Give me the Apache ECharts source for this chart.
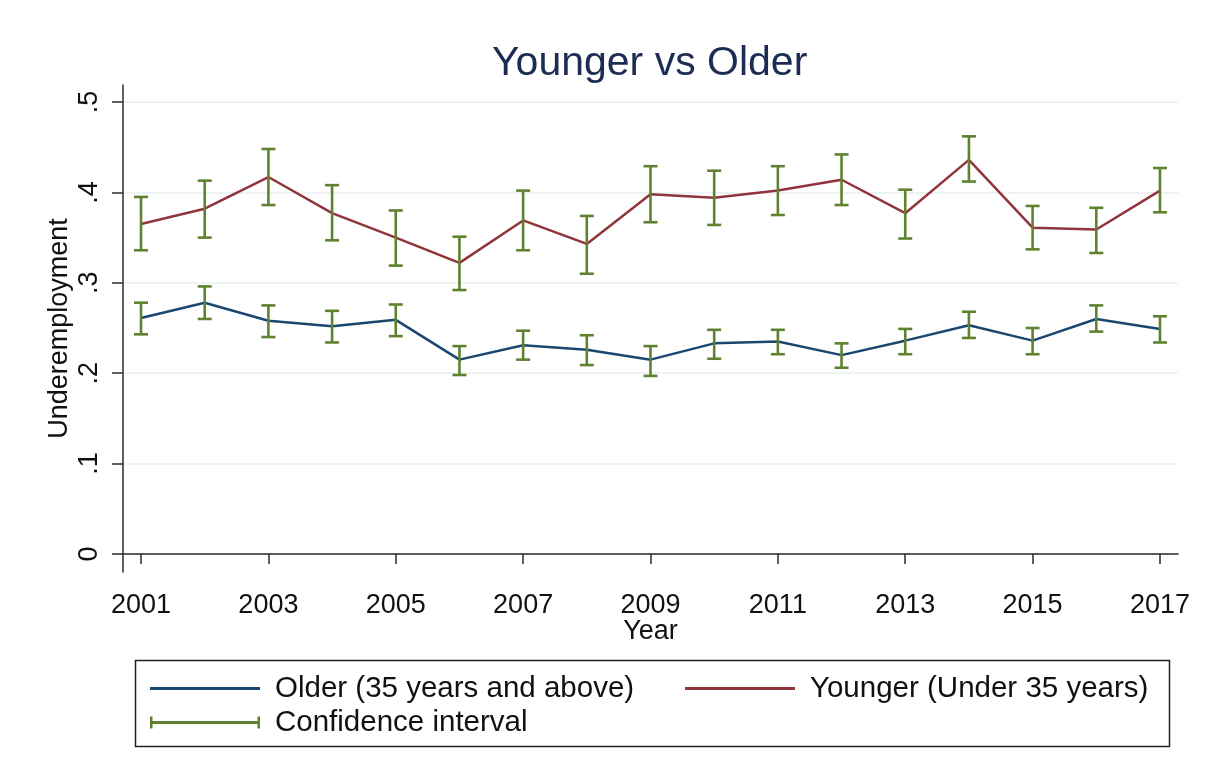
<!DOCTYPE html>
<html>
<head>
<meta charset="utf-8">
<script src="https://cdn.jsdelivr.net/npm/echarts@6/dist/echarts.min.js"></script>
<style>
html,body{margin:0;padding:0;background:#fff;}
#chart{width:1225px;height:772px;}
</style>
</head>
<body>
<div id="chart"></div>
<script>
const years = [2001,2002,2003,2004,2005,2006,2007,2008,2009,2010,2011,2012,2013,2014,2015,2016,2017];
const olderMean = [0.261,0.278,0.258,0.252,0.259,0.215,0.231,0.226,0.215,0.233,0.235,0.220,0.236,0.253,0.236,0.260,0.249];
const olderLow  = [0.243,0.260,0.240,0.234,0.241,0.198,0.215,0.209,0.197,0.216,0.221,0.206,0.221,0.239,0.221,0.246,0.234];
const olderHigh = [0.278,0.296,0.275,0.269,0.276,0.230,0.247,0.242,0.230,0.248,0.248,0.233,0.249,0.268,0.250,0.275,0.263];
const youngerMean = [0.365,0.382,0.417,0.377,0.350,0.322,0.369,0.343,0.398,0.394,0.402,0.414,0.377,0.436,0.361,0.359,0.402];
const youngerLow  = [0.336,0.350,0.386,0.347,0.319,0.292,0.336,0.310,0.367,0.364,0.375,0.386,0.349,0.412,0.337,0.333,0.378];
const youngerHigh = [0.395,0.413,0.448,0.408,0.380,0.351,0.402,0.374,0.429,0.424,0.429,0.442,0.403,0.462,0.385,0.383,0.427];
const xTickValues = [2001,2003,2005,2007,2009,2011,2013,2015,2017];
const yTickValues = [0,0.1,0.2,0.3,0.4,0.5];
const yTickLabels = ['0','.1','.2','.3','.4','.5'];

const FONT = 'Liberation Sans, Arial, Helvetica, sans-serif';
const ciColor = '#5f8230';
const olderColor = '#1a476f';
const youngerColor = '#90353b';
const axisColor = '#2b2b2b';

function ciRender(params, api) {
  const x = api.value(0), lo = api.value(1), hi = api.value(2);
  const pHi = api.coord([x, hi]);
  const pLo = api.coord([x, lo]);
  const w = 7;
  const st = {stroke: ciColor, lineWidth: 2.6};
  return {type: 'group', children: [
    {type: 'line', shape: {x1: pHi[0], y1: pHi[1], x2: pLo[0], y2: pLo[1]}, style: st},
    {type: 'line', shape: {x1: pHi[0]-w, y1: pHi[1], x2: pHi[0]+w, y2: pHi[1]}, style: st},
    {type: 'line', shape: {x1: pLo[0]-w, y1: pLo[1], x2: pLo[0]+w, y2: pLo[1]}, style: st}
  ]};
}

const chart = echarts.init(document.getElementById('chart'), null, {renderer: 'canvas'});
const option = {
  animation: false,
  backgroundColor: '#ffffff',
  textStyle: {fontFamily: FONT},
  title: {
    text: 'Younger vs Older',
    left: 487, top: 38,
    textStyle: {fontFamily: FONT, fontSize: 41, fontWeight: 'normal', color: '#1c2c53'}
  },
  grid: {left: 123, right: 47, top: 85, bottom: 200, containLabel: false},
  xAxis: {
    type: 'value', min: 2000.717, max: 2017.283,
    name: 'Year', nameLocation: 'middle', nameGap: 46, nameMoveOverlap: false,
    nameTextStyle: {fontFamily: FONT, fontSize: 27, color: '#111'},
    axisLine: {show: true, lineStyle: {color: axisColor, width: 1.5}},
    axisTick: {show: true, length: 10, customValues: xTickValues, lineStyle: {color: axisColor, width: 1.5}},
    axisLabel: {customValues: xTickValues, margin: 20, fontFamily: FONT, fontSize: 27, color: '#111', formatter: v => String(v)},
    splitLine: {show: false}
  },
  yAxis: {
    type: 'value', min: -0.0199, max: 0.5188,
    name: 'Underemployment', nameLocation: 'middle', nameGap: 50, nameMoveOverlap: false,
    nameTextStyle: {fontFamily: FONT, fontSize: 27, color: '#111'},
    axisLine: {show: true, lineStyle: {color: axisColor, width: 1.5}},
    axisTick: {show: true, length: 11, customValues: yTickValues, lineStyle: {color: axisColor, width: 1.5}},
    axisLabel: {customValues: yTickValues, rotate: 90, margin: 20, fontFamily: FONT, fontSize: 27, color: '#111',
      formatter: v => yTickLabels[yTickValues.findIndex(t => Math.abs(t - v) < 1e-6)] ?? ''},
    splitLine: {show: true, lineStyle: {color: '#e8eeef', width: 1.5}}
  },
  legend: [
    {
      left: 145, top: 668, orient: 'vertical', itemGap: 3,
      itemWidth: 110, itemHeight: 12,
      textStyle: {fontFamily: FONT, fontSize: 29.5, color: '#111', lineHeight: 31, padding: [0,0,0,10]},
      data: [
        {name: 'Older (35 years and above)', icon: 'path://M0,0h110v3h-110z', itemStyle: {color: olderColor}},
        {name: 'Confidence interval', icon: 'path://M0,0h2.5v12h-2.5zM0,4.5h110v3h-110zM107.5,0h2.5v12h-2.5z', itemStyle: {color: ciColor}}
      ]
    },
    {
      left: 680, top: 668, orient: 'vertical',
      itemWidth: 110, itemHeight: 12,
      textStyle: {fontFamily: FONT, fontSize: 29.5, color: '#111', lineHeight: 31, padding: [0,0,0,10]},
      data: [
        {name: 'Younger (Under 35 years)', icon: 'path://M0,0h110v3h-110z', itemStyle: {color: youngerColor}}
      ]
    }
  ],
  graphic: [
    {type: 'rect', left: 133, top: 658, shape: {width: 1034, height: 86},
     style: {fill: 'none', stroke: '#222', lineWidth: 1.5}, silent: true}
  ],
  series: [
    {
      name: 'Older (35 years and above)', type: 'line',
      data: years.map((y, i) => [y, olderMean[i]]),
      showSymbol: false, symbol: 'none',
      lineStyle: {color: olderColor, width: 2.5}, itemStyle: {color: olderColor}, z: 2
    },
    {
      name: 'Younger (Under 35 years)', type: 'line',
      data: years.map((y, i) => [y, youngerMean[i]]),
      showSymbol: false, symbol: 'none',
      lineStyle: {color: youngerColor, width: 2.5}, itemStyle: {color: youngerColor}, z: 2
    },
    {
      name: 'Confidence interval', type: 'custom', renderItem: ciRender,
      data: years.map((y, i) => [y, olderLow[i], olderHigh[i]]),
      encode: {x: 0, y: [1, 2]}, itemStyle: {color: ciColor}, z: 3
    },
    {
      name: 'Confidence interval', type: 'custom', renderItem: ciRender,
      data: years.map((y, i) => [y, youngerLow[i], youngerHigh[i]]),
      encode: {x: 0, y: [1, 2]}, itemStyle: {color: ciColor}, z: 3
    }
  ]
};
chart.setOption(option);
</script>
</body>
</html>
